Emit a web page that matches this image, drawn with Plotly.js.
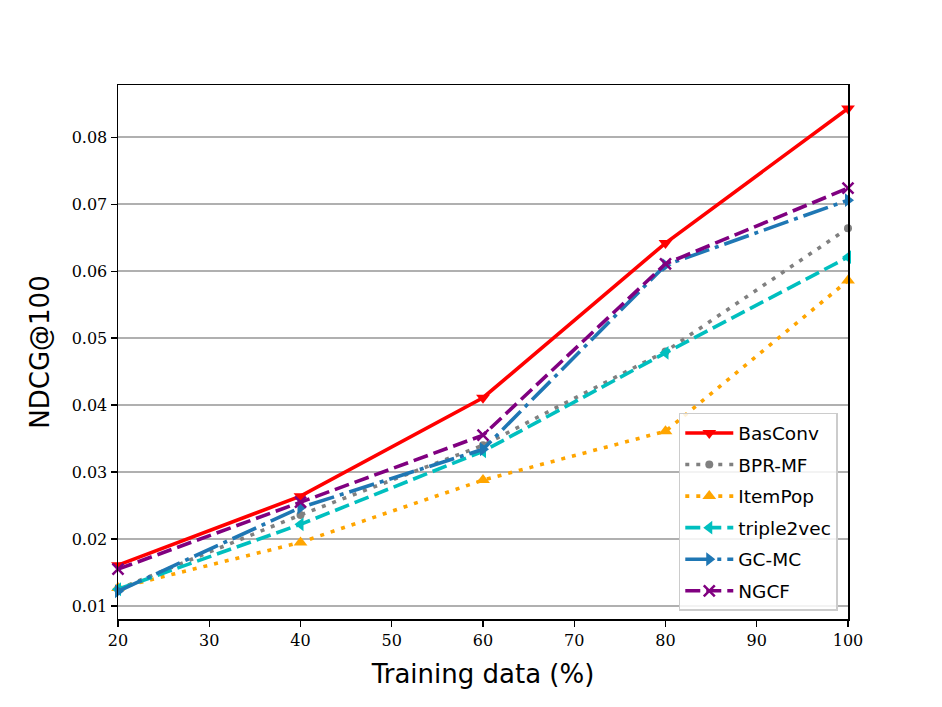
<!DOCTYPE html>
<html>
<head>
<meta charset="utf-8">
<script src="https://cdn.plot.ly/plotly-3.0.1.min.js"></script>
<style>
  body { margin: 0; background: #fff; }
  #chart { width: 942px; height: 707px; }
</style>
</head>
<body>
<div id="chart"></div>
<script>
const trainingData = [20, 40, 60, 80, 100];

const basConv = [0.0161, 0.0264, 0.0411, 0.0642, 0.0843];
const bprMf = [0.0125, 0.0236, 0.0340, 0.0480, 0.0664];
const itemPop = [0.0127, 0.0195, 0.0288, 0.0361, 0.0586];
const triple2vec = [0.0125, 0.0222, 0.0331, 0.0478, 0.0621];
const gcMc = [0.0122, 0.0247, 0.0334, 0.0609, 0.0706];
const ngcf = [0.0155, 0.0255, 0.0355, 0.0611, 0.0724];

// matplotlib-like dash patterns at lw=2pt
const SOLID = 'solid';
const DASHED = '15px,6px';
const DOTTED = '4px,7px';
const DASHDOT = '26px,6px,4px,6px';

function series(name, y, color, dash, symbol, size) {
  return {
    x: trainingData,
    y: y,
    name: name,
    legendgroup: name,
    type: 'scatter',
    mode: 'lines+markers',
    line: { color: color, width: 3.6, dash: dash },
    marker: { color: color, symbol: symbol, size: size || 12, line: { width: 0 } },
    cliponaxis: false,
  };
}

const traces = [
  series('BasConv', basConv, '#ff0000', SOLID, 'triangle-down'),
  series('BPR-MF', bprMf, '#808080', DOTTED, 'circle', 8),
  series('ItemPop', itemPop, '#ffa500', DOTTED, 'triangle-up'),
  series('triple2vec', triple2vec, '#00bfbf', DASHED, 'triangle-left'),
  series('GC-MC', gcMc, '#1f77b4', DASHDOT, 'triangle-right'),
  series('NGCF', ngcf, '#800080', DASHED, 'x-thin-open', 11),
];
traces[5].marker.line = { color: '#800080', width: 2.5 };

const layout = {
  width: 942,
  height: 707,
  margin: { l: 118, r: 94, t: 85, b: 88 },
  paper_bgcolor: '#ffffff',
  plot_bgcolor: '#ffffff',
  showlegend: true,
  legend: {
    x: 0.986, y: 0.015, xanchor: 'right', yanchor: 'bottom',
    bgcolor: 'rgba(255,255,255,0.85)',
    bordercolor: '#cccccc', borderwidth: 1.5,
    font: { family: 'DejaVu Sans, sans-serif', size: 18.5, color: '#000' },
    itemwidth: 48,
    tracegroupgap: 4.5,
  },
  xaxis: {
    range: [20, 100],
    tickvals: [20, 30, 40, 50, 60, 70, 80, 90, 100],
    ticks: 'outside', ticklen: 6, tickwidth: 1.3, tickcolor: '#000',
    showline: true, linecolor: '#000', linewidth: 1.5, mirror: true,
    showgrid: false, zeroline: false,
    tickfont: { family: 'DejaVu Serif, serif', size: 16, color: '#000' },
    title: { text: 'Training data (%)', font: { family: 'DejaVu Sans, sans-serif', size: 26, color: '#000' }, standoff: 16 },
  },
  yaxis: {
    range: [0.00806, 0.0878],
    tickvals: [0.01, 0.02, 0.03, 0.04, 0.05, 0.06, 0.07, 0.08],
    tickformat: '.2f',
    ticks: 'outside', ticklen: 6, tickwidth: 1.3, tickcolor: '#000',
    showline: true, linecolor: '#000', linewidth: 1.5, mirror: true,
    showgrid: true, gridcolor: '#b0b0b0', gridwidth: 1.5, zeroline: false,
    tickfont: { family: 'DejaVu Serif, serif', size: 16, color: '#000' },
    title: { text: 'NDCG@100', font: { family: 'DejaVu Sans, sans-serif', size: 26, color: '#000' }, standoff: 14 },
  },
};

Plotly.newPlot('chart', traces, layout, { displayModeBar: false, staticPlot: true });
</script>
</body>
</html>
